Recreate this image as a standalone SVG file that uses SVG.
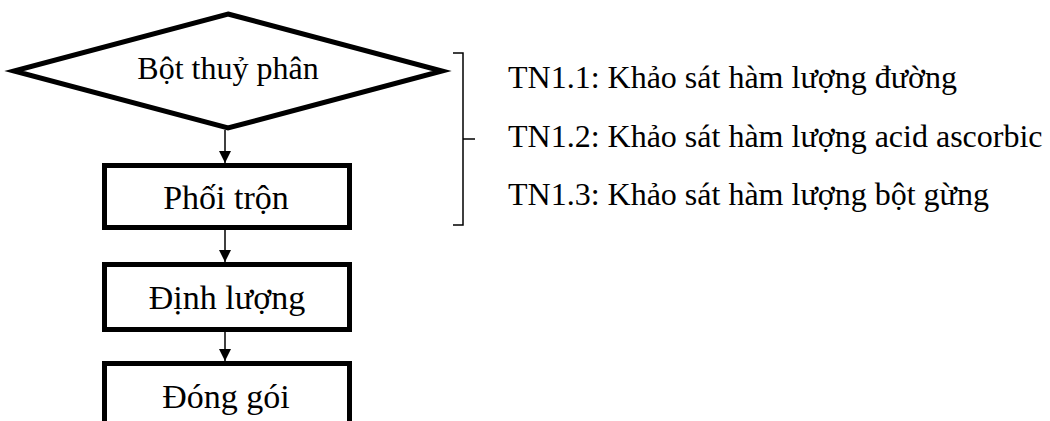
<svg xmlns="http://www.w3.org/2000/svg" width="1050" height="421" viewBox="0 0 1050 421">
  <style>
    .shape { fill: #ffffff; stroke: #000000; stroke-width: 5; stroke-linejoin: miter; }
    .label { font-family: "Liberation Serif", "Times New Roman", serif; font-size: 32px; fill: #000000; text-anchor: middle; }
    .step { font-size: 34px; }
    .note { font-family: "Liberation Serif", "Times New Roman", serif; font-size: 32px; fill: #000000; }
    .link { stroke: #000000; stroke-width: 1.5; fill: none; }
    .brace { stroke: #000000; stroke-width: 1.5; fill: none; }
  </style>
  <defs>
    <marker id="arrow" viewBox="0 0 12 12" refX="12" refY="6" markerWidth="12" markerHeight="12" markerUnits="userSpaceOnUse" orient="auto">
      <path d="M0,0 L12,6 L0,12 Z" fill="#000000"/>
    </marker>
  </defs>

  <!-- start: decision-shaped input -->
  <g id="node-bot-thuy-phan">
    <polygon class="shape" points="228,14 442,71 228,128 14,71"/>
    <text class="label" x="228" y="79">Bột thuỷ phân</text>
  </g>

  <g id="node-phoi-tron">
    <rect class="shape" x="104.5" y="165.5" width="245" height="62"/>
    <text class="label step" x="226" y="209">Phối trộn</text>
  </g>

  <g id="node-dinh-luong">
    <rect class="shape" x="104.5" y="264.5" width="245" height="65"/>
    <text class="label step" x="227" y="309">Định lượng</text>
  </g>

  <!-- last step runs off the bottom edge -->
  <g id="node-dong-goi">
    <polyline class="shape" points="104.5,430 104.5,363.5 349.5,363.5 349.5,430"/>
    <text class="label step" x="226" y="408">Đóng gói</text>
  </g>

  <g id="connectors">
    <line class="link" x1="225" y1="130" x2="225" y2="163" marker-end="url(#arrow)"/>
    <line class="link" x1="225" y1="230" x2="225" y2="262" marker-end="url(#arrow)"/>
    <line class="link" x1="225" y1="332" x2="225" y2="361" marker-end="url(#arrow)"/>
  </g>

  <!-- brace grouping the experiments -->
  <g id="experiments">
    <path class="brace" d="M453,53 L463,53 L463,225 L453,225 M463,139 L475,139"/>
    <text class="note" x="508" y="88">TN1.1: Khảo sát hàm lượng đường</text>
    <text class="note" x="508" y="147">TN1.2: Khảo sát hàm lượng acid ascorbic</text>
    <text class="note" x="508" y="205">TN1.3: Khảo sát hàm lượng bột gừng</text>
  </g>
</svg>
